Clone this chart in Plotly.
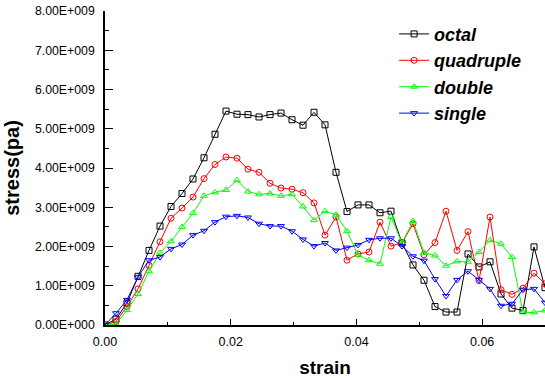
import plotly.graph_objects as go

strain = [0.0, 0.00175, 0.0035, 0.00525, 0.007, 0.00875, 0.0105, 0.01225, 0.014, 0.01575,
          0.0175, 0.01925, 0.021, 0.02275, 0.0245, 0.02625, 0.028, 0.02975, 0.0315, 0.03325,
          0.035, 0.03675, 0.0385, 0.04025, 0.042, 0.04375, 0.0455, 0.04725, 0.049, 0.05075,
          0.0525, 0.05425, 0.056, 0.05775, 0.0595, 0.06125, 0.063, 0.06475, 0.0665, 0.06825, 0.07]

octal = [0, 0.15, 0.56, 1.24, 1.90, 2.52, 3.02, 3.35, 3.72, 4.26,
         4.86, 5.45, 5.37, 5.36, 5.30, 5.36, 5.40, 5.23, 5.09, 5.42,
         5.10, 3.89, 2.89, 3.06, 3.06, 2.86, 2.90, 2.09, 1.53, 1.14,
         0.47, 0.33, 0.33, 1.81, 1.48, 1.61, 0.79, 0.43, 0.37, 1.99, 0.95]

quadruple = [0, 0.09, 0.47, 0.92, 1.52, 2.12, 2.72, 2.98, 3.26, 3.73,
             4.09, 4.28, 4.25, 3.97, 3.89, 3.61, 3.49, 3.46, 3.37, 3.11,
             2.29, 2.75, 1.65, 1.81, 1.86, 2.62, 2.01, 2.09, 2.58, 1.79,
             2.10, 2.90, 1.90, 2.38, 1.13, 2.75, 0.90, 0.78, 0.94, 1.32, 1.05]

double = [0, 0.02, 0.38, 0.79, 1.37, 1.84, 2.13, 2.50, 2.85, 3.29,
          3.38, 3.44, 3.69, 3.40, 3.33, 3.35, 3.29, 3.33, 3.02, 2.67,
          2.90, 2.81, 2.39, 1.79, 1.65, 1.56, 2.75, 2.09, 2.65, 1.84,
          1.77, 1.51, 1.62, 1.61, 1.86, 2.16, 2.07, 1.73, 0.32, 0.32, 0.37]

single = [0, 0.30, 0.64, 1.22, 1.65, 1.73, 1.94, 2.05, 2.29, 2.40,
          2.62, 2.76, 2.78, 2.74, 2.58, 2.52, 2.52, 2.39, 2.18, 2.01,
          2.09, 1.90, 1.97, 2.04, 2.17, 2.21, 2.21, 2.01, 1.75, 1.64,
          1.17, 0.74, 1.15, 1.37, 1.15, 0.92, 0.49, 0.54, 0.90, 0.92, 0.57]

y_tickvals = [0, 1e9, 2e9, 3e9, 4e9, 5e9, 6e9, 7e9, 8e9]
y_ticktext = ["0.00E+000", "1.00E+009", "2.00E+009", "3.00E+009", "4.00E+009",
              "5.00E+009", "6.00E+009", "7.00E+009", "8.00E+009"]
x_tickvals = [0.0, 0.02, 0.04, 0.06]
x_ticktext = ["0.00", "0.02", "0.04", "0.06"]

series = [
    ("octal", octal, "#000000", "square-open"),
    ("quadruple", quadruple, "#ff0000", "circle-open"),
    ("double", double, "#00ff00", "triangle-up-open"),
    ("single", single, "#0000ff", "triangle-down-open"),
]

FONT = "Arial, 'Liberation Sans', sans-serif"

fig = go.Figure()
for name, vals, color, sym in series:
    fig.add_trace(go.Scatter(
        x=strain, y=[v * 1e9 for v in vals], name=name, mode="lines+markers",
        line=dict(color=color, width=1),
        marker=dict(symbol=sym, size=6, color=color, line=dict(width=1, color=color)),
        cliponaxis=True,
    ))

fig.update_layout(
    width=545, height=378,
    margin=dict(l=105, r=0, t=11, b=53),
    paper_bgcolor="white", plot_bgcolor="white",
    font=dict(family=FONT, color="black", size=12),
    showlegend=True,
    legend=dict(
        x=0.657, y=0.985, xanchor="left", yanchor="top",
        bgcolor="rgba(0,0,0,0)", borderwidth=0,
        font=dict(family=FONT, size=18, color="black", weight="bold", style="italic"),
        tracegroupgap=0, itemwidth=30,
    ),
    xaxis=dict(
        range=[0, 0.07], showgrid=False, zeroline=False,
        showline=True, linecolor="black", linewidth=1.5,
        tickmode="array", tickvals=x_tickvals, ticktext=x_ticktext,
        ticks="inside", ticklen=6, tickwidth=1, tickcolor="black",
        minor=dict(tickmode="linear", tick0=0, dtick=0.01, ticks="inside", ticklen=3,
                   tickwidth=1, tickcolor="black", showgrid=False),
        tickfont=dict(size=12.5), ticklabelstandoff=4,
        title=dict(text="strain", font=dict(size=19, weight="bold"), standoff=14),
    ),
    yaxis=dict(
        range=[0, 8e9], showgrid=False, zeroline=False,
        showline=True, linecolor="black", linewidth=1.5,
        tickmode="array", tickvals=y_tickvals, ticktext=y_ticktext,
        ticks="inside", ticklen=8, tickwidth=1, tickcolor="black",
        minor=dict(tickmode="linear", tick0=0, dtick=5e8, ticks="inside", ticklen=4,
                   tickwidth=1, tickcolor="black", showgrid=False),
        tickfont=dict(size=12.3), ticklabelstandoff=6,
        title=dict(text="stress(pa)", font=dict(size=20, weight="bold"), standoff=10),
    ),
)

fig.write_html("out.html")
